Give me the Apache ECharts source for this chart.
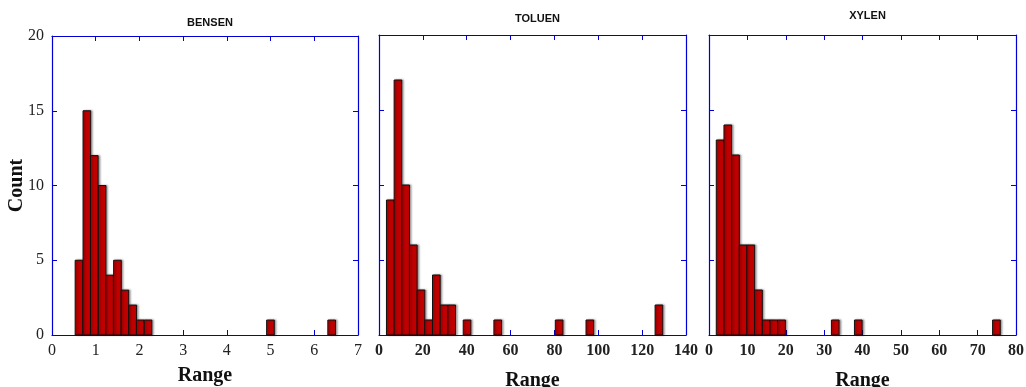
<!DOCTYPE html>
<html>
<head>
<meta charset="utf-8">
<script src="https://cdn.jsdelivr.net/npm/echarts@6/dist/echarts.min.js"></script>
<style>
  html, body { margin: 0; padding: 0; background: #fff; }
  #main { width: 1026px; height: 387px; }
</style>
</head>
<body>
<div id="main"></div>
<script>
// histogram bins: left edge of each non-empty bin and its count
const bensenEdges = [0.53, 0.71, 0.88, 1.06, 1.23, 1.41, 1.58, 1.76, 1.93, 2.11, 4.91, 6.31];
const bensenCounts = [5, 15, 12, 10, 4, 5, 3, 2, 1, 1, 1, 1];
const bensenWidth = 0.175;

const toluenEdges = [3.4, 6.9, 10.4, 13.9, 17.4, 20.9, 24.4, 27.9, 31.4, 38.4, 52.4, 80.4, 94.4, 125.9];
const toluenCounts = [9, 17, 10, 6, 3, 1, 4, 2, 2, 1, 1, 1, 1, 2];
const toluenWidth = 3.5;

const xylenEdges = [1.9, 3.9, 5.9, 7.9, 9.9, 11.9, 13.9, 15.9, 17.9, 31.9, 37.9, 73.9];
const xylenCounts = [13, 14, 12, 6, 6, 3, 1, 1, 1, 1, 1, 1];
const xylenWidth = 2.0;

const titles = ['BENSEN', 'TOLUEN', 'XYLEN'];
const xMax = [7, 140, 80];
const xStep = [1, 20, 10];
const yTicks = [0, 5, 10, 15, 20];

const blue = '#0000d4';
const serif = '"Liberation Serif", "DejaVu Serif", serif';

const grids = [
  { left: 52, top: 36, width: 306, height: 299, containLabel: false, outerBoundsMode: 'none' },
  { left: 379, top: 35, width: 307, height: 300, containLabel: false, outerBoundsMode: 'none' },
  { left: 709, top: 35, width: 307, height: 300, containLabel: false, outerBoundsMode: 'none' }
];

function toBins(edges, counts, w) {
  return edges.map((e, i) => [e, e + w, counts[i]]);
}
const allBins = [
  toBins(bensenEdges, bensenCounts, bensenWidth),
  toBins(toluenEdges, toluenCounts, toluenWidth),
  toBins(xylenEdges, xylenCounts, xylenWidth)
];

const xAxis = [];
const yAxis = [];
const series = [];
const title = [];

grids.forEach((g, i) => {
  const tick = { show: true, inside: true, length: 5, lineStyle: { color: blue, width: 1 } };
  const line = { show: true, onZero: false, lineStyle: { color: blue, width: 1.2 } };
  xAxis.push({
    type: 'value', gridIndex: i, position: 'bottom',
    min: 0, max: xMax[i], interval: xStep[i],
    axisLine: line, axisTick: tick, splitLine: { show: false },
    axisLabel: {
      margin: 8, fontFamily: serif, fontSize: 16, color: '#222',
      fontWeight: i === 0 ? 'normal' : 'bold'
    },
    name: 'Range', nameLocation: 'middle', nameGap: i === 0 ? 31 : 36,
    nameTextStyle: { fontFamily: serif, fontSize: 20, fontWeight: 'bold', color: '#111' }
  });
  xAxis.push({
    type: 'value', gridIndex: i, position: 'top',
    min: 0, max: xMax[i], interval: xStep[i],
    axisLine: line, axisTick: tick, splitLine: { show: false },
    axisLabel: { show: false }
  });
  yAxis.push({
    type: 'value', gridIndex: i, position: 'left',
    min: 0, max: 20, interval: 5,
    axisLine: line, axisTick: tick, splitLine: { show: false },
    axisLabel: {
      show: i === 0, margin: 8, fontFamily: serif, fontSize: 16, color: '#222',
      formatter: v => yTicks.includes(v) ? String(v) : ''
    },
    name: i === 0 ? 'Count' : '', nameLocation: 'middle', nameGap: 25, nameMoveOverlap: false,
    nameTextStyle: { fontFamily: serif, fontSize: 20, fontWeight: 'bold', color: '#111' }
  });
  yAxis.push({
    type: 'value', gridIndex: i, position: 'right',
    min: 0, max: 20, interval: 5,
    axisLine: line, axisTick: tick, splitLine: { show: false },
    axisLabel: { show: false }
  });
  title.push({
    text: titles[i],
    left: g.left + g.width / 2, top: [12, 8, 5][i],
    textAlign: 'center',
    textStyle: { fontFamily: '"Liberation Sans", Arial, sans-serif', fontSize: 11, fontWeight: 'bold', color: '#111' }
  });
  series.push({
    type: 'custom',
    xAxisIndex: i * 2, yAxisIndex: i * 2,
    data: allBins[i],
    encode: { x: [0, 1], y: 2 },
    renderItem: (params, api) => {
      const p0 = api.coord([api.value(0), api.value(2)]);
      const p1 = api.coord([api.value(1), 0]);
      return {
        type: 'rect',
        shape: { x: p0[0], y: p0[1], width: p1[0] - p0[0], height: p1[1] - p0[1] },
        style: {
          fill: '#c00000', stroke: '#111', lineWidth: 1,
          shadowBlur: 2, shadowOffsetX: 1.5, shadowColor: 'rgba(0,0,0,0.35)'
        }
      };
    }
  });
});

const myChart = echarts.init(document.getElementById('main'), null, { renderer: 'canvas' });
myChart.setOption({
  animation: false,
  backgroundColor: '#fff',
  title: title,
  grid: grids,
  xAxis: xAxis,
  yAxis: yAxis,
  series: series
});
window.onresize = () => { myChart.resize(); };
</script>
</body>
</html>
